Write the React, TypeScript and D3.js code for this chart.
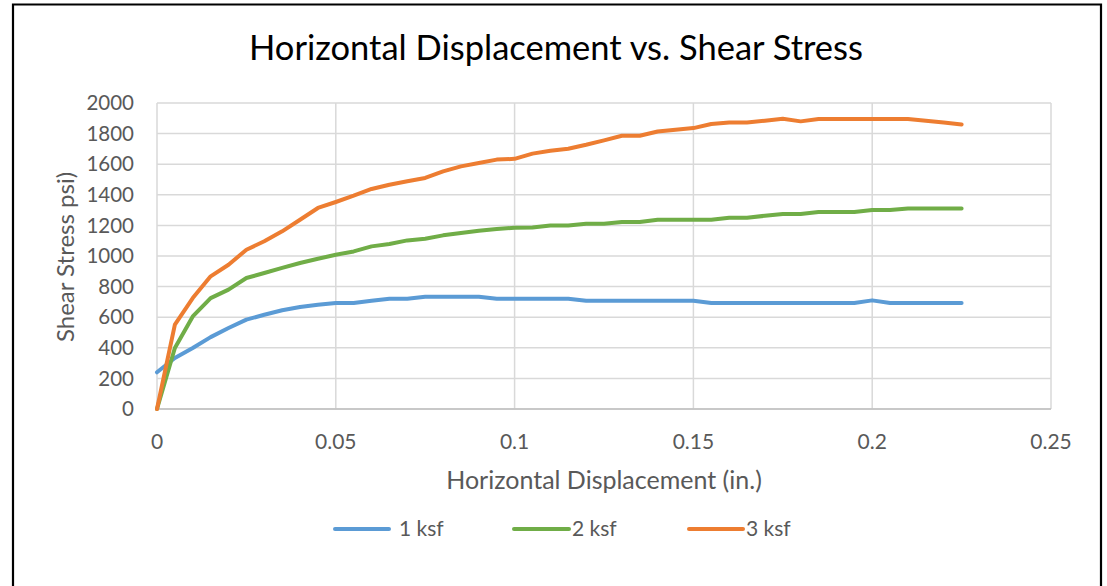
import React from "react";
import * as d3 from "d3";

// horizontal displacement (in.) at each reading
const displacement = [
  0, 0.005, 0.01, 0.015, 0.02, 0.025, 0.03, 0.035, 0.04, 0.045, 0.05,
  0.055, 0.06, 0.065, 0.07, 0.075, 0.08, 0.085, 0.09, 0.095, 0.1,
  0.105, 0.11, 0.115, 0.12, 0.125, 0.13, 0.135, 0.14, 0.145, 0.15, 0.155,
  0.16, 0.165, 0.17, 0.175, 0.18, 0.185, 0.19, 0.195,
  0.2, 0.205, 0.21, 0.215, 0.22, 0.225,
];

const stress1ksf = [
  240, 333, 399, 470, 529, 584, 616, 645, 667, 682, 693,
  693, 708, 721, 721, 734, 734, 734, 734, 721, 721,
  721, 721, 721, 708, 708, 708, 708, 708, 708, 708, 693,
  693, 693, 693, 693, 693, 693, 693, 693,
  710, 693, 693, 693, 693, 693,
];

const stress2ksf = [
  0, 399, 605, 725, 780, 856, 889, 922, 954, 982, 1008,
  1030, 1063, 1078, 1102, 1113, 1135, 1150, 1165, 1176, 1185,
  1187, 1200, 1200, 1211, 1211, 1222, 1222, 1237, 1237, 1237, 1237,
  1250, 1250, 1263, 1274, 1274, 1287, 1287, 1287,
  1300, 1300, 1311, 1311, 1311, 1311,
];

const stress3ksf = [
  0, 551, 725, 867, 943, 1041, 1096, 1161, 1237, 1314, 1353,
  1394, 1438, 1466, 1488, 1510, 1553, 1586, 1608, 1630, 1635,
  1669, 1688, 1701, 1727, 1756, 1786, 1786, 1814, 1825, 1836, 1863,
  1873, 1873, 1884, 1897, 1880, 1895, 1895, 1895,
  1895, 1895, 1895, 1884, 1873, 1860,
];

const seriesNames = ["1 ksf", "2 ksf", "3 ksf"];
const seriesColors = ["#5B9BD5", "#70AD47", "#ED7D31"];
const seriesValues = [stress1ksf, stress2ksf, stress3ksf];

const xTicks = [0, 0.05, 0.1, 0.15, 0.2, 0.25];
const yTicks = [0, 200, 400, 600, 800, 1000, 1200, 1400, 1600, 1800, 2000];

const FONT = "Lato, 'Open Sans', sans-serif";

export default function App() {
  const width = 1107;
  const height = 586;

  const x = d3.scaleLinear().domain([0, 0.25]).range([157, 1051]);
  const y = d3.scaleLinear().domain([0, 2000]).range([409, 103]);

  const line = d3
    .line<number>()
    .x((_, i) => x(displacement[i]))
    .y((d) => y(d));

  // legend layout (line start, line end, text start)
  const legendY = 529;
  const legendItems = [
    { x1: 335, x2: 389, tx: 399 },
    { x1: 514, x2: 569, tx: 572 },
    { x1: 689, x2: 743, tx: 746 },
  ];

  return (
    <svg
      width={width}
      height={height}
      style={{ position: "absolute", left: 0, top: 0, background: "#fff" }}
      fontFamily={FONT}
    >
      <rect x={0} y={0} width={width} height={height} fill="#fff" />
      {/* outer frame */}
      <path d="M13,600 L13,4.5 L1101,4.5 L1101,600" fill="none" stroke="#000" strokeWidth={2.2} />

      <text x={556} y={60} textAnchor="middle" fontSize={34.5} fill="#000">
        Horizontal Displacement vs. Shear Stress
      </text>

      {/* gridlines */}
      {yTicks.map((t) => (
        <line key={"gy" + t} x1={x(0)} x2={x(0.25)} y1={y(t)} y2={y(t)} stroke="#D9D9D9" strokeWidth={1.5} />
      ))}
      {xTicks.map((t) => (
        <line key={"gx" + t} x1={x(t)} x2={x(t)} y1={y(0)} y2={y(2000)} stroke="#D9D9D9" strokeWidth={1.5} />
      ))}
      <line x1={x(0)} x2={x(0.25)} y1={y(0)} y2={y(0)} stroke="#BFBFBF" strokeWidth={1.5} />

      {/* tick labels */}
      {yTicks.map((t) => (
        <text key={"ty" + t} x={134} y={y(t)} dy="0.35em" textAnchor="end" fontSize={20.5} fill="#595959">
          {t}
        </text>
      ))}
      {xTicks.map((t) => (
        <text key={"tx" + t} x={x(t)} y={442} dy="0.35em" textAnchor="middle" fontSize={21} fill="#595959">
          {t}
        </text>
      ))}

      <text x={604} y={480} dy="0.35em" textAnchor="middle" fontSize={25} fill="#595959">
        Horizontal Displacement (in.)
      </text>
      <text
        transform={`translate(66,257) rotate(-90)`}
        dy="0.35em"
        textAnchor="middle"
        fontSize={24}
        fill="#595959"
      >
        Shear Stress psi)
      </text>

      {/* series */}
      {seriesValues.map((vals, i) => (
        <path
          key={seriesNames[i]}
          d={line(vals) || ""}
          fill="none"
          stroke={seriesColors[i]}
          strokeWidth={4}
          strokeLinejoin="round"
          strokeLinecap="round"
        />
      ))}

      {/* legend */}
      {legendItems.map((it, i) => (
        <g key={"lg" + i}>
          <line
            x1={it.x1}
            x2={it.x2}
            y1={legendY}
            y2={legendY}
            stroke={seriesColors[i]}
            strokeWidth={4}
            strokeLinecap="round"
          />
          <text x={it.tx} y={legendY} dy="0.35em" fontSize={21} fill="#595959">
            {seriesNames[i]}
          </text>
        </g>
      ))}
    </svg>
  );
}
